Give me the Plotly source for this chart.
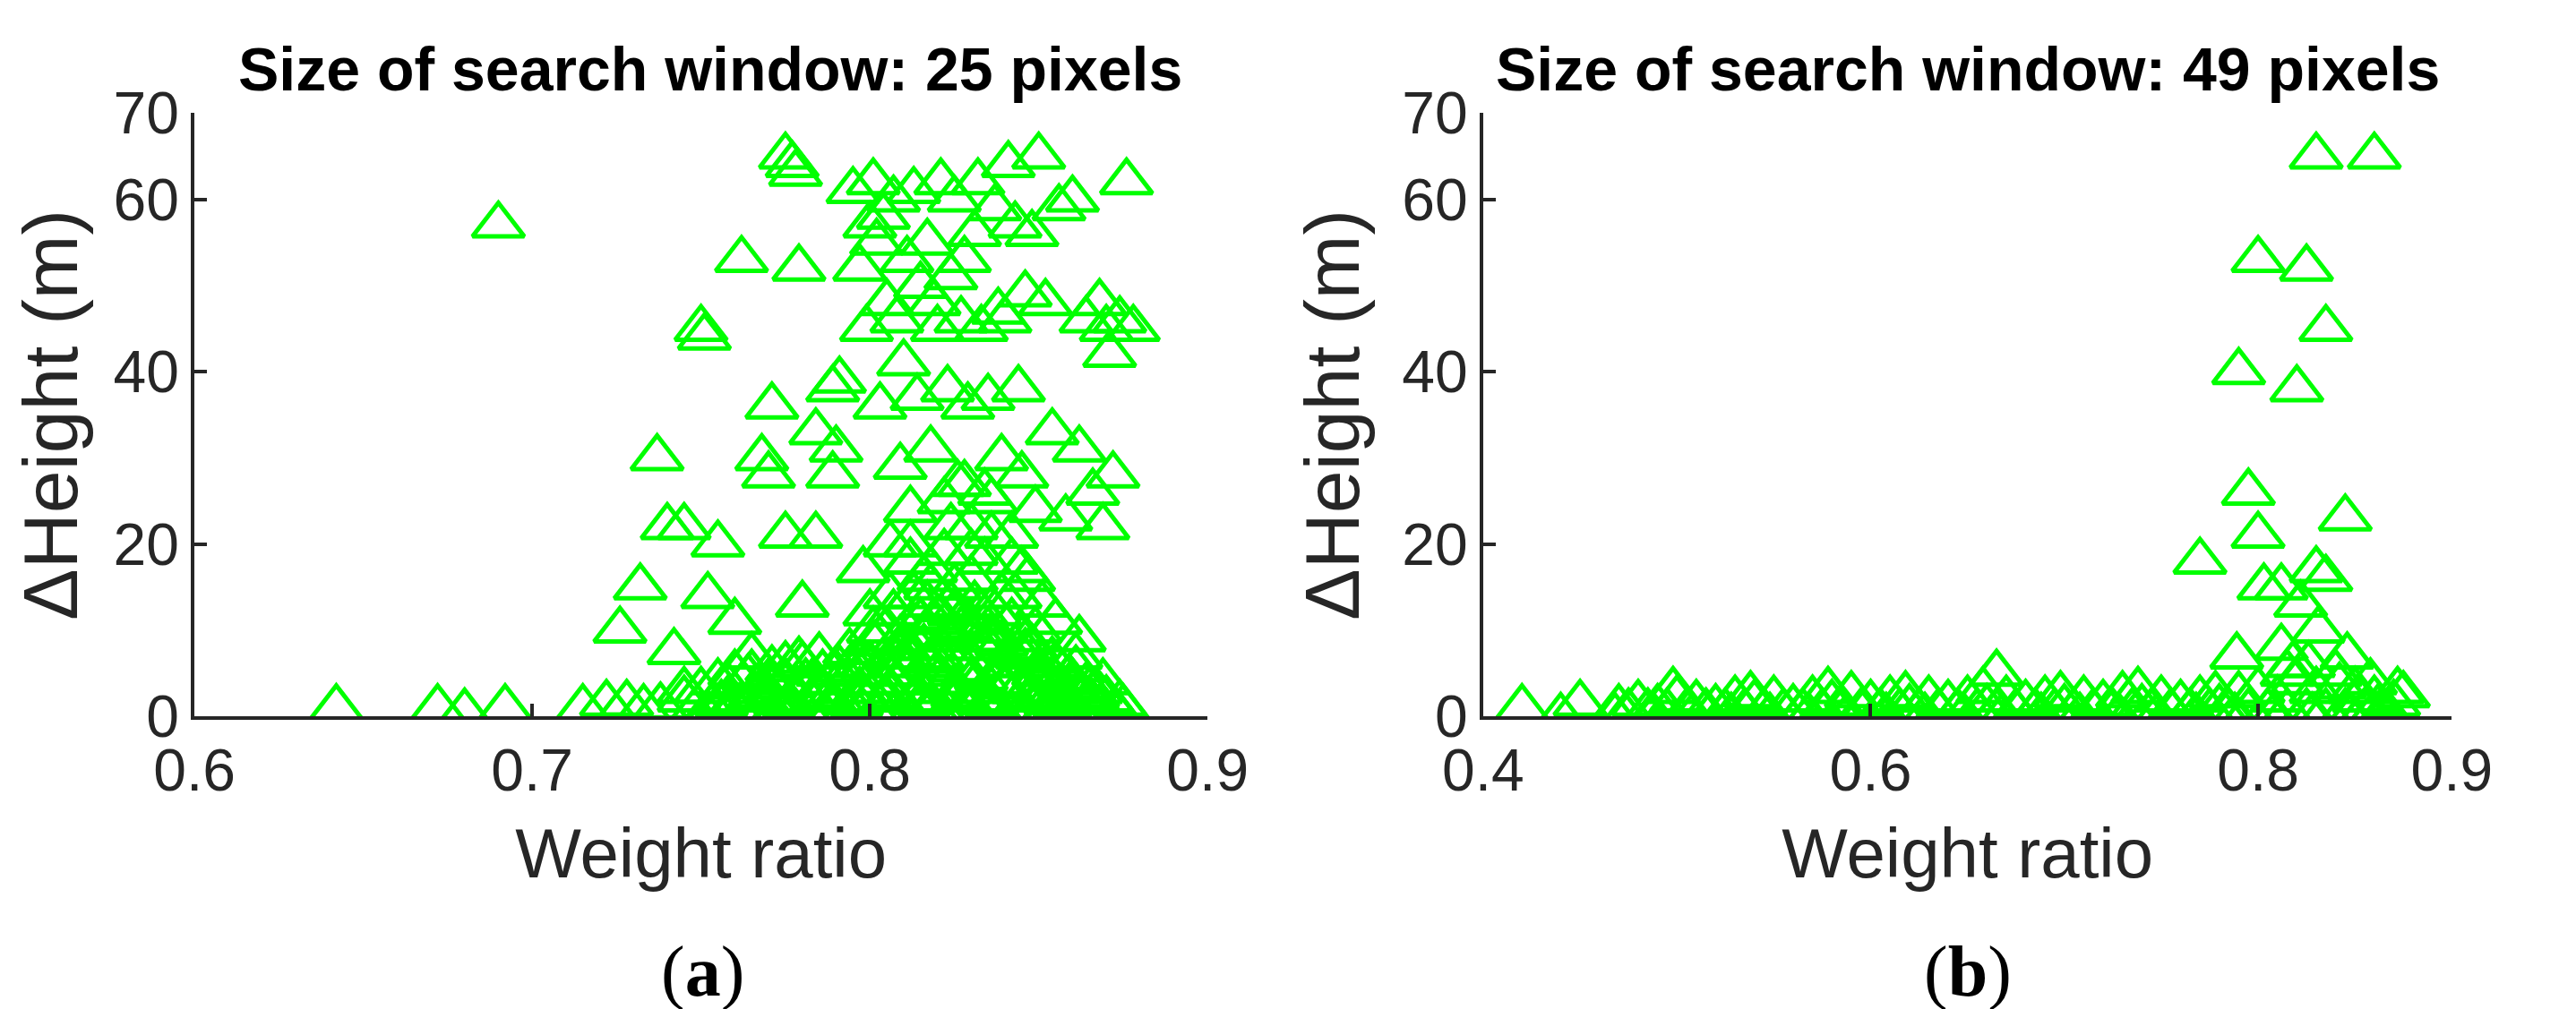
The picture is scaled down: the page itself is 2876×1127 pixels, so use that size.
import plotly.graph_objects as go

# panel (a): search window 25 pixels
xa = [0.642, 0.672, 0.680, 0.692, 0.690, 0.715, 0.722, 0.728, 0.733, 0.738, 0.726, 0.732,
      0.737, 0.740, 0.745, 0.750, 0.751, 0.752, 0.755, 0.762, 0.760, 0.768, 0.770, 0.771,
      0.775, 0.777, 0.778, 0.779, 0.775, 0.780, 0.784, 0.784, 0.789, 0.791, 0.790, 0.789,
      0.795, 0.797, 0.798, 0.799, 0.800, 0.801, 0.802, 0.803, 0.804, 0.805, 0.806, 0.807,
      0.808, 0.809, 0.810, 0.811, 0.812, 0.813, 0.814, 0.815, 0.816, 0.817, 0.818, 0.819,
      0.820, 0.821, 0.822, 0.823, 0.824, 0.825, 0.826, 0.827, 0.828, 0.829, 0.830, 0.831,
      0.832, 0.833, 0.834, 0.835, 0.836, 0.837, 0.838, 0.839, 0.840, 0.841, 0.842, 0.843,
      0.844, 0.845, 0.846, 0.847, 0.848, 0.849, 0.850, 0.852, 0.854, 0.856, 0.858, 0.860,
      0.862, 0.864, 0.866, 0.868, 0.870, 0.872, 0.874, 0.876, 0.878, 0.871, 0.869, 0.862,
      0.800, 0.803, 0.806, 0.809, 0.812, 0.815, 0.818, 0.821, 0.824, 0.827, 0.830, 0.833,
      0.836, 0.839, 0.842, 0.845, 0.848, 0.851, 0.805, 0.811, 0.817, 0.823, 0.829, 0.835,
      0.841, 0.847, 0.853, 0.802, 0.808, 0.814, 0.820, 0.826, 0.832, 0.838, 0.844, 0.850,
      0.745, 0.750, 0.755, 0.760, 0.765, 0.770, 0.775, 0.780, 0.785, 0.790, 0.795, 0.800,
      0.805, 0.810, 0.815, 0.820, 0.825, 0.830, 0.835, 0.840, 0.845, 0.850, 0.855, 0.860,
      0.865, 0.870, 0.875, 0.748, 0.753, 0.758, 0.763, 0.768, 0.773, 0.778, 0.783, 0.788,
      0.793, 0.798, 0.803, 0.808, 0.813, 0.818, 0.823, 0.828, 0.833, 0.838, 0.843, 0.848,
      0.853, 0.858, 0.863, 0.868, 0.873, 0.760, 0.770, 0.780, 0.790, 0.800, 0.810, 0.820,
      0.830, 0.840, 0.850, 0.860, 0.765, 0.775, 0.785, 0.795, 0.805, 0.815, 0.825, 0.835,
      0.845, 0.855, 0.865, 0.812, 0.818, 0.824, 0.830, 0.836, 0.842, 0.822, 0.828, 0.834,
      0.752, 0.757, 0.762, 0.767, 0.772, 0.777, 0.782, 0.787, 0.792, 0.797, 0.802, 0.807,
      0.812, 0.817, 0.822, 0.827, 0.832, 0.837, 0.842, 0.847, 0.852, 0.857, 0.862, 0.867,
      0.756, 0.766, 0.776, 0.786, 0.796, 0.806, 0.816, 0.826, 0.836, 0.846, 0.856, 0.866,
      0.801, 0.807, 0.813, 0.819, 0.825, 0.831, 0.837, 0.843, 0.849, 0.855, 0.861,
      0.758, 0.764, 0.771, 0.779, 0.786, 0.794, 0.801, 0.809, 0.816, 0.824, 0.831, 0.839,
      0.846, 0.854, 0.861, 0.869, 0.763, 0.772, 0.781, 0.791, 0.799, 0.807, 0.814, 0.821,
      0.828, 0.835, 0.843, 0.851, 0.859, 0.867, 0.874, 0.817, 0.823, 0.829, 0.819, 0.826,
      0.833, 0.840, 0.811, 0.804, 0.797, 0.788, 0.852, 0.858, 0.864, 0.870, 0.745, 0.742]
ya = [1.0, 1.0, 0.5, 1.0, 57.0, 1.0, 1.5, 1.5, 1.0, 1.2, 10.0, 15.0,
      30.0, 22.0, 22.0, 45.0, 44.0, 14.0, 20.0, 53.0, 11.0, 30.0, 28.0, 36.0,
      65.0, 64.0, 63.0, 52.0, 21.0, 13.0, 21.0, 33.0, 38.0, 39.0, 31.0, 28.0,
      61.0, 52.0, 17.0, 45.0, 57.0, 62.0, 55.0, 36.0, 58.0, 48.0, 20.0, 60.0,
      46.0, 29.0, 41.0, 53.0, 24.0, 61.0, 37.0, 50.0, 16.0, 55.0, 31.0, 48.0,
      45.0, 62.0, 19.0, 38.0, 51.0, 60.0, 27.0, 46.0, 53.0, 36.0, 22.0, 56.0,
      62.0, 45.0, 18.0, 37.0, 25.0, 59.0, 47.0, 30.0, 46.0, 64.0, 21.0, 57.0,
      38.0, 28.0, 49.0, 16.0, 56.0, 24.0, 65.0, 48.0, 33.0, 59.0, 23.0, 60.0,
      31.0, 46.0, 26.0, 48.0, 45.0, 28.0, 46.0, 62.0, 45.0, 42.0, 22.0, 9.0,
      12.0, 9.0, 14.0, 7.0, 18.0, 11.0, 15.0, 8.0, 13.0, 10.0, 16.0, 12.0,
      9.0, 14.0, 11.0, 17.0, 8.0, 13.0, 5.0, 7.0, 6.0, 9.0, 5.0, 8.0,
      6.0, 7.0, 5.0, 3.0, 4.0, 2.0, 4.0, 3.0, 2.0, 4.0, 3.0, 2.0,
      2.0, 3.0, 4.0, 1.0, 5.0, 2.0, 6.0, 3.0, 7.0, 1.0, 5.0, 6.0,
      2.0, 8.0, 3.0, 7.0, 9.0, 4.0, 8.0, 3.0, 7.0, 5.0, 6.0, 4.0,
      3.0, 2.0, 1.0, 0.5, 1.0, 2.0, 0.5, 3.0, 1.0, 2.0, 4.0, 1.0,
      0.5, 2.0, 1.0, 0.5, 2.0, 1.0, 0.5, 1.0, 2.0, 0.5, 1.0, 2.0,
      1.0, 0.5, 2.0, 1.0, 0.5, 5.0, 4.0, 6.0, 5.0, 4.0, 6.0, 5.0,
      4.0, 6.0, 5.0, 3.0, 7.0, 4.0, 3.0, 6.0, 10.0, 11.0, 12.0, 10.0,
      9.0, 3.0, 2.0, 20.0, 17.0, 22.0, 19.0, 21.0, 18.0, 25.0, 27.0, 26.0,
      0.0, 0.0, 0.0, 0.0, 0.0, 0.0, 0.0, 0.0, 0.0, 0.0, 0.0, 0.0,
      0.0, 0.0, 0.0, 0.0, 0.0, 0.0, 0.0, 0.0, 0.0, 0.0, 0.0, 0.0,
      1.5, 2.5, 1.5, 2.5, 1.5, 2.5, 1.5, 2.5, 1.5, 2.5, 1.5, 2.5,
      10.0, 12.0, 14.0, 11.0, 15.0, 13.0, 12.0, 14.0, 10.0, 11.0, 7.0,
      3.5, 4.5, 5.5, 6.5, 5.0, 7.5, 8.5, 9.0, 8.0, 9.5, 9.0, 8.5,
      7.5, 6.5, 5.5, 4.0, 1.0, 3.5, 4.0, 5.5, 6.0, 7.0, 8.0, 11.5,
      10.5, 9.0, 8.0, 6.0, 4.5, 3.0, 1.5, 13.0, 12.5, 11.0, 6.5, 5.5,
      4.5, 3.5, 5.0, 4.0, 3.0, 2.0, 2.5, 1.5, 3.5, 2.0, 3.0, 7.5]

# panel (b): search window 49 pixels
xb = [0.420, 0.440, 0.450, 0.665, 0.830, 0.860, 0.800, 0.825, 0.835, 0.790, 0.820, 0.795,
      0.845, 0.800, 0.770, 0.803, 0.812, 0.830, 0.835, 0.822, 0.831, 0.789, 0.846, 0.815,
      0.470, 0.480, 0.490, 0.500, 0.510, 0.520, 0.530, 0.540, 0.550, 0.560, 0.570, 0.580,
      0.590, 0.600, 0.610, 0.620, 0.630, 0.640, 0.650, 0.660, 0.670, 0.680, 0.690, 0.700,
      0.710, 0.720, 0.730, 0.740, 0.750, 0.760, 0.770, 0.780, 0.790, 0.800, 0.810, 0.820,
      0.830, 0.840, 0.850, 0.860, 0.870, 0.475, 0.485, 0.495, 0.505, 0.515, 0.525, 0.535,
      0.545, 0.555, 0.565, 0.575, 0.585, 0.595, 0.605, 0.615, 0.625, 0.635, 0.645, 0.655,
      0.665, 0.675, 0.685, 0.695, 0.705, 0.715, 0.725, 0.735, 0.745, 0.755, 0.765, 0.775,
      0.785, 0.795, 0.805, 0.815, 0.825, 0.835, 0.845, 0.855, 0.865, 0.875, 0.468, 0.488,
      0.508, 0.528, 0.548, 0.568, 0.588, 0.608, 0.628, 0.648, 0.668, 0.688, 0.708, 0.728,
      0.748, 0.768, 0.788, 0.808, 0.828, 0.848, 0.868, 0.498, 0.538, 0.578, 0.618, 0.658,
      0.698, 0.738, 0.778, 0.818, 0.858, 0.842, 0.852, 0.862, 0.872, 0.812, 0.826]
yb = [1.0, 0.0, 1.5, 5.0, 65.0, 65.0, 53.0, 52.0, 45.0, 40.0, 38.0, 26.0,
      23.0, 21.0, 18.0, 15.0, 15.0, 17.0, 16.0, 13.0, 10.0, 7.0, 7.0, 5.0,
      1.0, 1.5, 1.0, 2.0, 1.5, 1.0, 2.0, 1.5, 2.0, 1.0, 2.0, 1.5,
      2.5, 1.5, 2.0, 1.0, 2.0, 1.5, 2.0, 1.0, 2.0, 1.5, 2.0, 1.0,
      2.0, 1.5, 2.5, 1.0, 2.0, 1.5, 2.0, 1.0, 2.5, 3.0, 2.0, 4.0,
      3.0, 5.0, 3.0, 2.0, 1.5, 0.5, 0.5, 0.5, 0.5, 0.5, 0.5, 0.5,
      0.5, 0.5, 0.5, 0.5, 0.5, 0.5, 0.5, 0.5, 0.5, 0.5, 0.5, 0.5,
      0.5, 0.5, 0.5, 0.5, 0.5, 0.5, 0.5, 0.5, 0.5, 0.5, 0.5, 0.5,
      0.5, 0.5, 0.5, 0.5, 0.5, 0.5, 0.5, 0.5, 0.5, 2.5, 0.0, 0.0,
      0.0, 0.0, 0.0, 0.0, 0.0, 0.0, 0.0, 0.0, 0.0, 0.0, 0.0, 0.0,
      0.0, 0.0, 0.0, 0.0, 0.0, 0.0, 0.0, 3.0, 2.5, 3.0, 2.5, 3.0,
      2.5, 3.0, 2.5, 6.0, 4.0, 3.5, 2.0, 1.0, 3.0, 8.0, 6.0]

green = "#00ff00"
axcol = "#262626"
font = "Liberation Sans"

fig = go.Figure()
fig.add_trace(go.Scatter(x=xa, y=ya, mode="markers", xaxis="x", yaxis="y",
                         marker=dict(symbol="triangle-up-open", size=50, color=green,
                                     line=dict(width=5, color=green))))
fig.add_trace(go.Scatter(x=xb, y=yb, mode="markers", xaxis="x2", yaxis="y2",
                         marker=dict(symbol="triangle-up-open", size=50, color=green,
                                     line=dict(width=5, color=green))))

common = dict(showline=True, linecolor=axcol, linewidth=4, ticks="inside", ticklen=14,
              tickwidth=4, tickcolor=axcol, showgrid=False, zeroline=False, automargin=False,
              tickfont=dict(family=font, size=66, color=axcol))
xt = dict(text="Weight ratio", font=dict(family=font, size=78, color=axcol), standoff=30)
yt = dict(text="ΔHeight (m)", font=dict(family=font, size=86, color=axcol), standoff=20)

fig.update_layout(
    width=2876, height=1127, showlegend=False,
    plot_bgcolor="white", paper_bgcolor="white",
    margin=dict(l=0, r=0, t=0, b=0),
    xaxis=dict(common, domain=[0.0727, 0.466], range=[0.6, 0.9],
               tickvals=[0.6, 0.7, 0.8, 0.9], title=xt, anchor="y"),
    yaxis=dict(common, domain=[0.297, 0.895], range=[0, 70],
               tickvals=[0, 20, 40, 60, 70], title=yt, anchor="x"),
    xaxis2=dict(common, domain=[0.573, 0.949], range=[0.4, 0.9],
                tickvals=[0.4, 0.6, 0.8, 0.9], title=xt, anchor="y2"),
    yaxis2=dict(common, domain=[0.297, 0.895], range=[0, 70],
                tickvals=[0, 20, 40, 60, 70], title=yt, anchor="x2"),
    annotations=[
        dict(text="<b>Size of search window: 25 pixels</b>", x=0.273, y=0.939,
             xref="paper", yref="paper", xanchor="center", yanchor="middle", showarrow=False,
             font=dict(family=font, size=68, color="black")),
        dict(text="<b>Size of search window: 49 pixels</b>", x=0.761, y=0.939,
             xref="paper", yref="paper", xanchor="center", yanchor="middle", showarrow=False,
             font=dict(family=font, size=68, color="black")),
        dict(text="(<b>a</b>)", x=0.27, y=0.044, xref="paper", yref="paper",
             xanchor="center", yanchor="middle", showarrow=False,
             font=dict(family="Liberation Serif", size=80, color="black")),
        dict(text="(<b>b</b>)", x=0.761, y=0.044, xref="paper", yref="paper",
             xanchor="center", yanchor="middle", showarrow=False,
             font=dict(family="Liberation Serif", size=80, color="black")),
    ],
)

fig.write_html("out.html")
